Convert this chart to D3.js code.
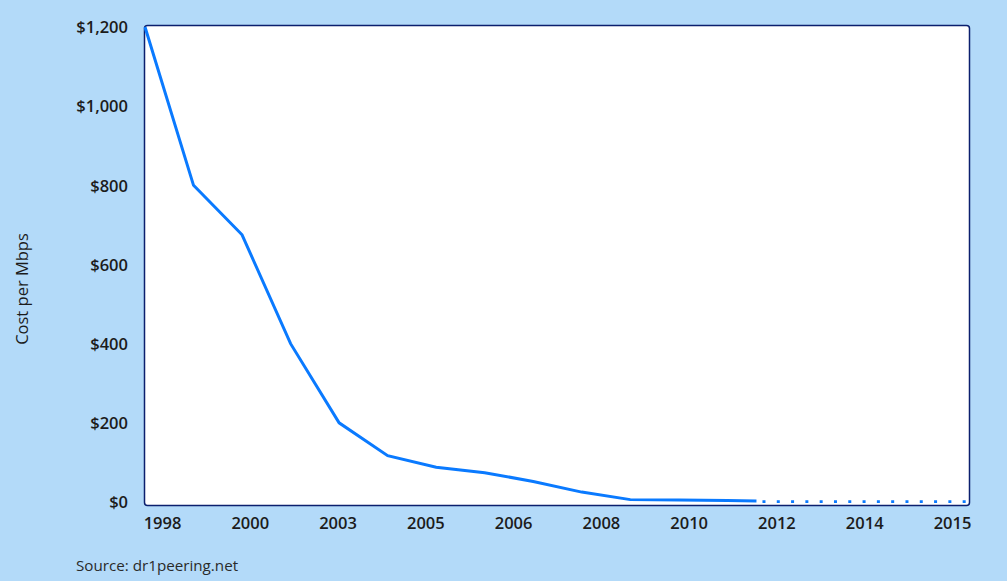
<!DOCTYPE html>
<html><head><meta charset="utf-8">
<script src="https://cdn.jsdelivr.net/npm/d3@7"></script>
<style>
html,body{margin:0;padding:0;background:#b3daf9;}
svg{display:block;font-family:"Open Sans","Noto Sans",sans-serif;}
.tick text{fill:#1c1c1c;font-size:16.5px;font-weight:600;font-family:"Open Sans","Noto Sans",sans-serif;}
</style></head>
<body><svg id="c" width="1007" height="581"></svg>
<script>
// Data
const actualYears  = [1998,1999,2000,2001,2002,2003,2004,2005,2006,2007,2008,2009,2010,2010.6];
const actualValues = [1200, 800, 675, 400, 200, 117,  88,  74,  52,  25,   6,   5,   4,   2.5];
const projYears    = [2010.6,2011,2012,2013,2014,2015];
const projValues   = [1,1,1,1,1,1];
const xTickLabels  = ["1998","2000","2003","2005","2006","2008","2010","2012","2014","2015"];
const yTicks       = [0,200,400,600,800,1000,1200];

const svg = d3.select("#c");
const L=145, R=970, T=25.5, B=505.5;

const x = d3.scaleLinear().domain([1998,2015]).range([L,R]);
const y = d3.scaleLinear().domain([0,1200]).range([502,27]);
const xLab = d3.scalePoint().domain(xTickLabels).range([162,952]);

// plot area
svg.append("rect").attr("x",L-0.5).attr("y",T).attr("width",R-L).attr("height",B-T)
  .attr("rx",3).attr("fill","#fff").attr("stroke","#0b1f6e").attr("stroke-width",1.5);

// y axis
const ya = svg.append("g").attr("transform",`translate(${L-17},0)`)
  .call(d3.axisLeft(y).tickValues(yTicks).tickSize(0).tickPadding(0).tickFormat(d=>"$"+d3.format(",")(d)));
ya.select(".domain").remove();
ya.selectAll("text").attr("dy","0.35em");

// x axis
const xa = svg.append("g").attr("transform",`translate(0,${B+8})`)
  .call(d3.axisBottom(xLab).tickSize(0).tickPadding(0));
xa.select(".domain").remove();
xa.selectAll("text").attr("dy","0.95em");

const line = d3.line().x(d=>x(d[0])).y(d=>y(d[1]));

svg.append("path").datum(d3.zip(projYears,projValues))
  .attr("d",line).attr("fill","none").attr("stroke","#0a7aff")
  .attr("stroke-width",2.8).attr("stroke-dasharray","0 6 3 5.3");

svg.append("path").datum(d3.zip(actualYears,actualValues))
  .attr("d",line).attr("fill","none").attr("stroke","#0a7aff")
  .attr("stroke-width",3).attr("stroke-linejoin","miter");

// y title
svg.append("text").attr("transform","translate(28,289) rotate(-90)")
  .attr("text-anchor","middle").attr("font-size",16.5).attr("fill","#1c1c1c")
  .text("Cost per Mbps");

// source
svg.append("text").attr("x",76).attr("y",571).attr("font-size",15.2).attr("fill","#2a2a2a")
  .text("Source: dr1peering.net");
</script></body></html>
